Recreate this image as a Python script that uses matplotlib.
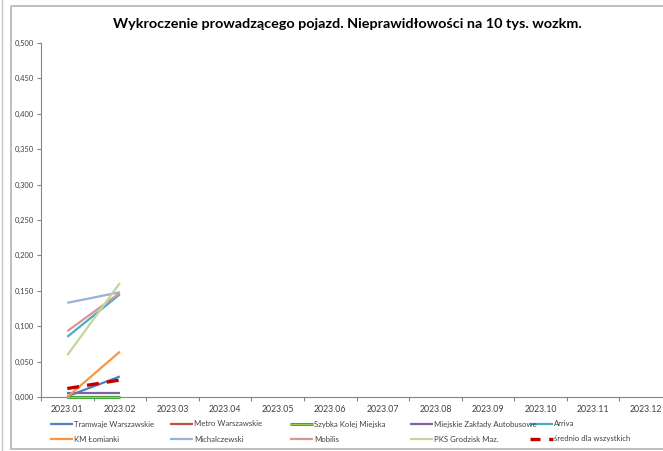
"""
Wykroczenie prowadzącego pojazd - nieprawidłowości na 10 tys. wozkm,
wykres liniowy w stylu Excela (dane tylko za 2023.01 i 2023.02).

Output: out.png
"""
import matplotlib

matplotlib.use("Agg")
import matplotlib.pyplot as plt
import matplotlib.patheffects as pe
import numpy as np
from matplotlib.lines import Line2D

W, H = 663, 451
DPI = 100

months = ["2023.01", "2023.02", "2023.03", "2023.04", "2023.05", "2023.06",
          "2023.07", "2023.08", "2023.09", "2023.10", "2023.11", "2023.12"]

tramwaje = [0.001, 0.029]
metro = [0.000, 0.000]
skm = [0.000, 0.000]
mza = [0.005, 0.005]
arriva = [0.085, 0.145]
km_lomianki = [0.000, 0.064]
michalczewski = [0.133, 0.148]
mobilis = [0.093, 0.147]
pks_grodzisk = [0.059, 0.161]
srednio = [0.012, 0.024]

y_ticks = [0.0, 0.05, 0.1, 0.15, 0.2, 0.25, 0.3, 0.35, 0.4, 0.45, 0.5]

FONT = "Lato"
AXIS_GRAY = "#868686"

# (label, values, colour, width, style) - w kolejności legendy (wierszami)
SERIES = [
    ("Tramwaje Warszawskie", tramwaje, "#4F81BD", 1.6, "-"),
    ("Metro Warszawskie", metro, "#C0504D", 1.6, "-"),
    ("Szybka Kolej Miejska", skm, "#92D050", 1.0, "-"),
    ("Miejskie Zakłady Autobusowe", mza, "#8064A2", 1.6, "-"),
    ("Arriva", arriva, "#4BACC6", 1.6, "-"),
    ("KM Łomianki", km_lomianki, "#F79646", 1.6, "-"),
    ("Michalczewski", michalczewski, "#95B3D7", 1.6, "-"),
    ("Mobilis", mobilis, "#D99694", 1.6, "-"),
    ("PKS Grodzisk Maz.", pks_grodzisk, "#C3D69B", 1.6, "-"),
    ("średnio dla wszystkich", srednio, "#C00000", 2.4, "--"),
]
SKM_EDGE = [pe.Stroke(linewidth=2.2, foreground="#3A9A34"), pe.Normal()]
DASH = (0, (3.6, 2.4))


def px(x, y):
    """piksele (od lewego górnego rogu) -> współrzędne figury"""
    return x / W, 1 - y / H


def main() -> None:
    fig = plt.figure(figsize=(W / DPI, H / DPI), dpi=DPI)
    fig.patch.set_facecolor("white")

    # obszar wykresu: x 41..672 px, y 43..397 px
    left, top = px(41, 43)
    right, bottom = px(672, 397)
    ax = fig.add_axes([left, bottom, right - left, top - bottom])

    x = np.arange(len(months))
    for i, (label, vals, color, lw, ls) in enumerate(SERIES):
        y = np.full(len(months), np.nan)
        y[: len(vals)] = vals
        kw = {}
        if label == "Szybka Kolej Miejska":
            kw["path_effects"] = SKM_EDGE
        ax.plot(x, y, color=color, linewidth=lw,
                linestyle=DASH if ls == "--" else ls,
                solid_capstyle="butt", dash_capstyle="butt",
                zorder=3 + i * 0.1, clip_on=False, **kw)

    ax.set_xlim(-0.5, len(months) - 0.5)
    ax.set_ylim(0, 0.5)
    ax.set_yticks(y_ticks)
    ax.set_yticklabels([f"{v:.3f}".replace(".", ",") for v in y_ticks],
                       fontsize=5.4, family=FONT, color="#404040")
    ax.set_xticks(x)
    ax.set_xticklabels(months, fontsize=6.3, family=FONT, color="#404040")
    ax.set_xticks(np.arange(len(months) + 1) - 0.5, minor=True)
    ax.tick_params(axis="x", which="major", length=0, pad=6)
    ax.tick_params(axis="x", which="minor", length=3, color=AXIS_GRAY, width=0.8)
    ax.tick_params(axis="y", length=3, color=AXIS_GRAY, width=0.8, pad=2)

    for side in ("top", "right"):
        ax.spines[side].set_visible(False)
    for side in ("left", "bottom"):
        ax.spines[side].set_color(AXIS_GRAY)
        ax.spines[side].set_linewidth(0.8)

    # tytuł
    tx, ty = px(347, 24)
    fig.text(tx, ty, "Wykroczenie prowadzącego pojazd. Nieprawidłowości na 10 tys. wozkm.",
             ha="center", va="center", fontsize=10.4, fontweight="bold",
             family=FONT, color="#000000")

    # legenda rysowana ręcznie: 5 kolumn co 120 px, 2 wiersze
    col_x = [50, 170, 290, 410, 530]
    row_y = [424, 439]
    for i, (label, vals, color, lw, ls) in enumerate(SERIES):
        cx = col_x[i % 5]
        cy = row_y[i // 5]
        x0, y0 = px(cx, cy)
        x1, _ = px(cx + 23, cy)
        kw = {}
        if label == "Szybka Kolej Miejska":
            kw["path_effects"] = SKM_EDGE
        if ls == "-":
            fig.add_artist(Line2D([x0, x1], [y0, y0], color=color, linewidth=lw,
                                  solid_capstyle="butt", **kw))
        else:
            fig.add_artist(Line2D([x0, x1], [y0, y0], color=color, linewidth=lw,
                                  linestyle=(0, (3.0, 2.6)), dash_capstyle="butt"))
        lx, _ = px(cx + 24, cy)
        fig.text(lx, y0, label, ha="left", va="center", fontsize=5.6,
                 family=FONT, color="#404040")

    # ramki (obramowanie wykresu w arkuszu)
    border = "#BFBFBF"
    a, b = px(11, 6)
    c, d = px(W + 5, 449)
    fig.add_artist(Line2D([a, a, c], [d, b, b], color=border, linewidth=1.4))
    fig.add_artist(Line2D([a, c], [d, d], color=border, linewidth=1.4))
    e, _ = px(1.5, 0)
    fig.add_artist(Line2D([e, e], [0, 1], color="#C8C8C8", linewidth=1.0))

    fig.savefig("out.png", dpi=DPI, facecolor="white")
    plt.close(fig)


if __name__ == "__main__":
    main()
